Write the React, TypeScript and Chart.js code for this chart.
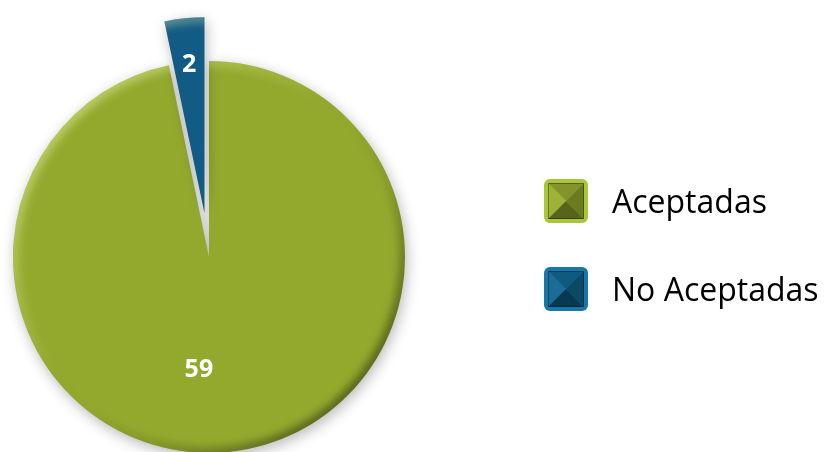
import { useEffect, useRef } from "react";
import { Chart, registerables } from "chart.js";

Chart.register(...registerables);

const categories = ["Aceptadas", "No Aceptadas"];
const values = [59, 2];
const sliceColors = ["#93A92E", "#125B84"];
const legendBorderColors = ["#A9C637", "#1678AA"];
// top, left, right, bottom faces of the bevelled legend box
const legendFaceColors = [
  ["#84932A", "#9DB237", "#6C7B1F", "#576419"],
  ["#105A7F", "#1B6C94", "#0C4967", "#083953"],
];
const explode = [0, 44];
const labelRadius = [0.58, 0.76];
const labelNudgeDeg = [11, 0];

const explodePlugin = {
  id: "explode",
  afterDatasetsUpdate(chart: any) {
    const meta = chart.getDatasetMeta(0);
    meta.data.forEach((arc: any, i: number) => {
      const d = explode[i] || 0;
      if (!d) return;
      const mid = (arc.startAngle + arc.endAngle) / 2;
      arc.x += Math.cos(mid) * d;
      arc.y += Math.sin(mid) * d;
    });
  },
};

const stylePlugin = {
  id: "pieStyle",
  beforeDatasetsDraw(chart: any) {
    const ctx = chart.ctx;
    ctx.save();
    ctx.shadowColor = "rgba(0,0,0,0.28)";
    ctx.shadowBlur = 14;
    ctx.shadowOffsetX = 2;
    ctx.shadowOffsetY = 4;
  },
  afterDatasetsDraw(chart: any) {
    const ctx = chart.ctx;
    ctx.restore();
    const meta = chart.getDatasetMeta(0);
    meta.data.forEach((arc: any, i: number) => {
      const { x, y, startAngle, endAngle, outerRadius: r } = arc;
      // bevel
      ctx.save();
      ctx.beginPath();
      ctx.moveTo(x, y);
      ctx.arc(x, y, r, startAngle, endAngle);
      ctx.closePath();
      ctx.clip();
      ctx.filter = "blur(4px)";
      const g = ctx.createLinearGradient(x - r * 0.75, y - r * 0.65, x + r * 0.7, y + r * 0.75);
      g.addColorStop(0, "rgba(240,255,180,0.45)");
      g.addColorStop(0.35, "rgba(240,255,180,0.08)");
      g.addColorStop(0.5, "rgba(0,0,0,0)");
      g.addColorStop(0.7, "rgba(0,0,0,0.1)");
      g.addColorStop(1, "rgba(0,0,0,0.45)");
      ctx.strokeStyle = g;
      ctx.lineWidth = 11;
      ctx.beginPath();
      ctx.arc(x, y, r, 0, Math.PI * 2);
      ctx.stroke();
      ctx.restore();

      // value label
      const mid = (startAngle + endAngle) / 2 + (labelNudgeDeg[i] * Math.PI) / 180;
      const lr = r * labelRadius[i];
      ctx.save();
      ctx.fillStyle = "#FFFFFF";
      ctx.font = "bold 25px 'Open Sans'";
      ctx.textAlign = "center";
      ctx.textBaseline = "middle";
      ctx.fillText(String(chart.data.datasets[0].data[i]), x + Math.cos(mid) * lr, y + Math.sin(mid) * lr);
      ctx.restore();
    });
  },
  afterDraw(chart: any) {
    const ctx = chart.ctx;
    const labels = chart.data.labels as string[];
    const bx = 544;
    const by0 = 179;
    const gap = 88;
    const size = 44;
    labels.forEach((label, i) => {
      const by = by0 + i * gap;
      ctx.save();
      // outer rounded border
      ctx.fillStyle = legendBorderColors[i];
      ctx.beginPath();
      ctx.roundRect(bx, by, size, size, 6);
      ctx.fill();
      // inner bevelled square
      const ix = bx + 4, iy = by + 4, is = size - 8;
      const cx = ix + is / 2, cy = iy + is / 2;
      const faces = legendFaceColors[i];
      const tri = (ax: number, ay: number, bx2: number, by2: number, col: string) => {
        ctx.fillStyle = col;
        ctx.beginPath();
        ctx.moveTo(ax, ay);
        ctx.lineTo(bx2, by2);
        ctx.lineTo(cx, cy);
        ctx.closePath();
        ctx.fill();
      };
      tri(ix, iy, ix + is, iy, faces[0]);
      tri(ix, iy, ix, iy + is, faces[1]);
      tri(ix + is, iy, ix + is, iy + is, faces[2]);
      tri(ix, iy + is, ix + is, iy + is, faces[3]);
      ctx.strokeStyle = "rgba(0,0,0,0.35)";
      ctx.lineWidth = 1;
      ctx.strokeRect(ix + 0.5, iy + 0.5, is - 1, is - 1);
      // text
      ctx.fillStyle = "#000000";
      ctx.font = "32px 'Open Sans'";
      ctx.textAlign = "left";
      ctx.textBaseline = "alphabetic";
      ctx.fillText(label, 612, by + 34);
      ctx.restore();
    });
  },
};

export default function App() {
  const ref = useRef<HTMLCanvasElement | null>(null);
  useEffect(() => {
    if (!ref.current) return;
    const chart = new Chart(ref.current, {
      type: "pie",
      data: {
        labels: categories,
        datasets: [
          {
            data: values,
            backgroundColor: sliceColors,
            borderWidth: 0,
            clip: false as any,
          },
        ],
      },
      options: {
        responsive: false,
        animation: false,
        events: [],
        radius: 196,
        layout: { padding: { left: 0, right: 407, top: 62, bottom: 0 } },
        plugins: {
          legend: { display: false },
          tooltip: { enabled: false },
        },
      } as any,
      plugins: [explodePlugin, stylePlugin],
    });
    return () => chart.destroy();
  }, []);
  return (
    <div style={{ position: "fixed", left: 0, top: 0, width: 825, height: 452, background: "#fff" }}>
      <canvas ref={ref} width={825} height={452} />
    </div>
  );
}
